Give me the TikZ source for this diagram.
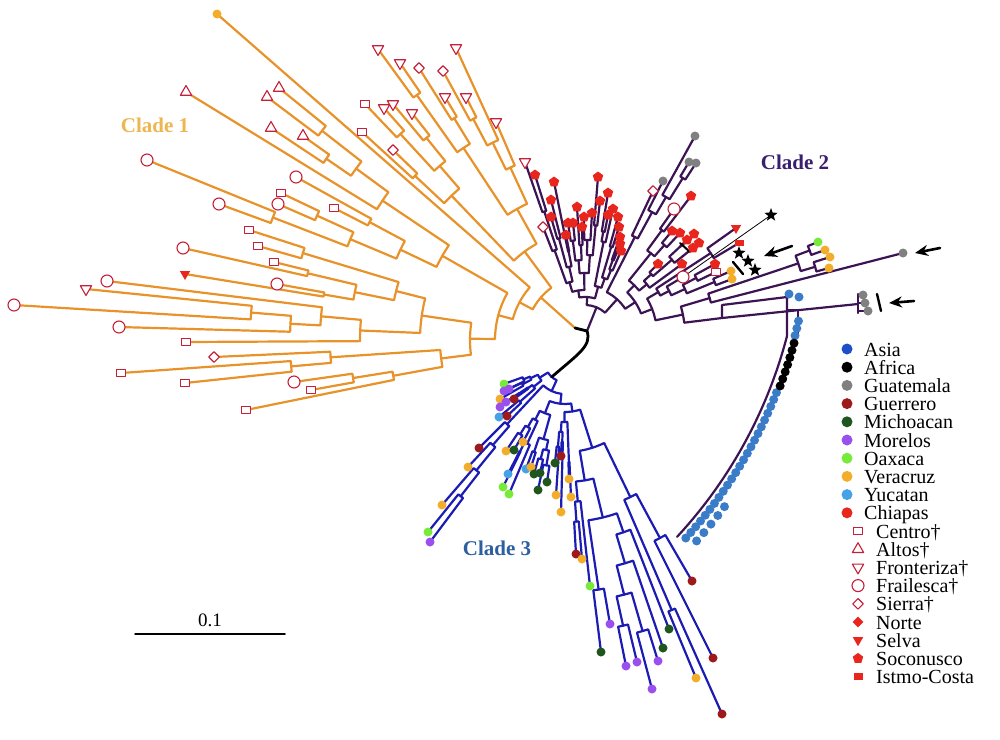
\documentclass[tikz,border=0pt]{standalone}
\usepackage{fontspec}
\setmainfont{Liberation Serif}
\usetikzlibrary{calc,shapes.geometric,arrows.meta}
\definecolor{clOne}{HTML}{E8922A}
\definecolor{clTwo}{HTML}{3C1454}
\definecolor{clThree}{HTML}{1C1CB4}
\definecolor{txtOne}{HTML}{EDB650}
\definecolor{txtTwo}{HTML}{3A1E70}
\definecolor{txtThree}{HTML}{2D5E9E}
\definecolor{cAsia}{HTML}{1F4FC8}
\definecolor{cAsiT}{HTML}{3A7CC8}
\definecolor{cGua}{HTML}{808080}
\definecolor{cGue}{HTML}{9E1A1A}
\definecolor{cMic}{HTML}{1E561E}
\definecolor{cMor}{HTML}{9A50EC}
\definecolor{cOax}{HTML}{78EA3A}
\definecolor{cVer}{HTML}{F2AE2A}
\definecolor{cYuc}{HTML}{45A2E6}
\definecolor{cChi}{HTML}{E8261E}
\definecolor{cOpen}{HTML}{C4203A}
% join two children (tips or inner nodes) by an arc round (F)
\newcommand\jn[4]{%
  \draw let \p1=($(#2)-(F)$), \p2=($(#3)-(F)$),
    \n1={mod(atan2(\y1,\x1)+360-(\cut),360)+(\cut)},
    \n2={mod(atan2(\y2,\x2)+360-(\cut),360)+(\cut)} in
    (#2) -- ($(F)+(\n1:#4pt)$) arc[start angle=\n1, end angle=\n2, radius=#4pt] -- (#3)
    ($(F)+({(\n1+\n2)/2}:#4pt)$) coordinate (#1);}
\def\tipsA{a1/246/410/mCen, a2/311/390/mCen, a3/294/382/mFra, a4/185/383/mCen,
  a5/121/373/mCen, a6/214/357/mSie, a7/186/342/mCen, a8/119/327/mFra, a9/14/305/mFra,
  a10/86/289/mFro, a11/107/281/mFra, a12/277/284/mFra, a13/185/274/mSel, a14/274/262/mCen,
  a15/183/248/mFra, a16/258/246/mCen, a17/249/230/mCen, a18/334/208/mCen, a19/278/204/mFra,
  a20/219/204/mFra, a21/281/193/mCen, a22/296/177/mFra, a23/147/160/mFra, a24/393/150/mSie,
  a25/362/132/mCen, a26/303/136/mAlt, a27/271/128/mAlt, a28/267/97/mAlt, a29/279/88/mAlt,
  a30/186/92/mAlt, a31/217/14/tVer, a32/365/104/mCen, a33/384/108/mFro, a34/393/104/mFro,
  a35/412/113/mFro, a36/378/49/mFro, a37/400/63/mFro, a38/419/68/mSie, a39/443/71/mSie,
  a40/445/97/mFro, a41/466/97/mFro, a42/456/48/mFro, a43/496/122/mFro}
\def\tipsB{b1/543/227/mSie, b2/525/162/mFro, b3/535/175/mSoc, b4/551/217/mSoc,
  b5/551/200/mSoc, b6/554/182/mSoc, b7/566/235/mSoc, b8/568/223/mSoc, b9/573/223/mSoc,
  b10/577/207/mSoc, b11/582/227/mSoc, b12/584/217/mSoc, b13/592/213/mSoc, b14/598/177/mSoc,
  b15/600/201/mSoc, b16/608/193/mSoc, b17/608/215/mSoc, b18/613/209/mSoc, b19/618/217/mSoc,
  b20/619/227/mSoc, b21/620/237/mSoc, b22/620/244/mSoc, b23/621/251/mSoc, b24/653/191/mSie,
  b25/663/181/tGua, b26/695/136/tGua, b27/689/162/tGua, b28/696/163/tGua, b29/674/209/mFra,
  b30/691/196/mSoc, b31/672/231/mSoc, b32/680/233/mSoc, b33/658/264/mSoc, b34/687/240/mSoc,
  b35/694/234/mSoc, b36/699/243/mSoc, b37/693/248/mSoc, b38/682/264/mSoc, b39/736/228/mSel,
  b40/739/243/mIst, b41/683/277/mFra, b42/715/264/mSoc, b43/716/272/mCen, b44/731/271/tVer,
  b45/732/279/tVer, b46/818/242/tOax, b47/825/250/tVer, b48/830/257/tVer, b49/829/268/tVer,
  b50/903/253/tGua}
\def\tipsC{c1/504/384/tOax, c2/509/389/tMor, c3/504/391/tMor, c4/514/399/tGue,
  c5/500/399/tVer, c6/506/402/tMor, c7/500/407/tMor, c8/499/417/tYuc, c9/507/416/tGue,
  c10/479/448/tGue, c11/506/451/tVer, c12/514/450/tMic, c13/523/442/tVer, c14/468/467/tVer,
  c15/508/474/tYuc, c16/526/469/tYuc, c17/531/467/tVer, c18/534/474/tMic, c19/540/473/tMic,
  c20/547/482/tMic, c21/538/490/tMic, c22/503/487/tOax, c23/509/494/tOax, c24/561/456/tGue,
  c25/555/463/tMic, c26/569/479/tVer, c27/556/495/tVer, c28/571/497/tVer, c29/561/512/tVer,
  c30/442/505/tVer, c31/428/532/tOax, c32/430/542/tMor, c33/576/554/tGue, c34/582/559/tVer,
  c35/590/586/tOax, c36/610/624/tMor, c37/601/652/tMic, c38/626/666/tMor, c39/637/662/tMor,
  c40/658/661/tMor, c41/652/689/tMor, c42/663/648/tMic, c43/669/629/tMic, c44/692/581/tGue,
  c45/713/658/tGue, c46/696/678/tVer, c47/722/714/tGue}
\begin{document}
\begin{tikzpicture}[x=1pt, y=-1pt, line join=round, line cap=round,
  tipdot/.style={circle, inner sep=0pt, minimum size=9pt, draw=none},
  tAsi/.style={tipdot, fill=cAsiT}, tAsL/.style={tipdot, fill=cAsia},
  tAfr/.style={tipdot, fill=black}, tGua/.style={tipdot, fill=cGua},
  tGue/.style={tipdot, fill=cGue}, tMic/.style={tipdot, fill=cMic},
  tMor/.style={tipdot, fill=cMor}, tOax/.style={tipdot, fill=cOax},
  tVer/.style={tipdot, fill=cVer}, tYuc/.style={tipdot, fill=cYuc},
  tChi/.style={tipdot, fill=cChi},
  opn/.style={draw=cOpen, fill=white, line width=1.1pt, inner sep=0pt},
  mCen/.style={opn, rectangle, minimum width=8.5pt, minimum height=7pt},
  mAlt/.style={opn, regular polygon, regular polygon sides=3, minimum size=13pt},
  mFro/.style={mAlt, shape border rotate=180},
  mFra/.style={opn, circle, minimum size=12pt},
  mSie/.style={opn, diamond, minimum size=11pt},
  fld/.style={fill=cChi, draw=none, inner sep=0pt},
  mNor/.style={fld, diamond, minimum size=11pt},
  mSel/.style={fld, regular polygon, regular polygon sides=3, shape border rotate=180, minimum size=12pt},
  mSoc/.style={fld, regular polygon, regular polygon sides=5, minimum size=11pt},
  mIst/.style={fld, rectangle, minimum width=9pt, minimum height=6.5pt},
  mStar/.style={star, star points=5, star point ratio=2.4, fill=black, inner sep=0pt, minimum size=14pt},
  rootln/.style={black, line width=2.8pt},
  bigarr/.style={-{Stealth[length=13pt, width=11pt]}, line width=2.6pt},
  cltxt/.style={font=\fontsize{21}{21}\selectfont\bfseries},
  lgtxt/.style={font=\fontsize{20}{20}\selectfont, anchor=base west, inner sep=0pt}]
\useasboundingbox (0,0) rectangle (1000,739);
\coordinate (rtA) at (575,328);
\coordinate (rt) at (587,331);
% clade 1
\begin{scope}[color=clOne, line width=2.2pt]
  \coordinate (F) at (590,340); \def\cut{0}
  \foreach \n/\x/\y/\m in \tipsA {\coordinate (\n) at (\x,\y);}
  \jn{A1}{a2}{a3}{240} \jn{A2}{a1}{A1}{200} \jn{A3}{a4}{a5}{300}
  \jn{A4}{A3}{a6}{260} \jn{A5}{A2}{A4}{150}
  \jn{B1}{a9}{a10}{340} \jn{B2}{a8}{B1}{300} \jn{B3}{B2}{a11}{270} \jn{B4}{a7}{B3}{230}
  \jn{C1}{a13}{a12}{270} \jn{C2}{a15}{a14}{290} \jn{C3}{C1}{C2}{240}
  \jn{C4}{a16}{a17}{300} \jn{C5}{C3}{C4}{200}
  \jn{BC}{B4}{C5}{170} \jn{ABC}{A5}{BC}{120}
  \jn{D1}{a20}{a23}{340} \jn{D2}{a19}{a21}{300} \jn{D3}{D1}{D2}{260}
  \jn{D4}{a18}{a22}{250} \jn{D5}{D3}{D4}{210}
  \jn{E1}{a27}{a26}{320} \jn{E2}{a28}{a29}{340} \jn{E3}{E1}{E2}{290} \jn{E4}{a30}{E3}{250}
  \jn{DE}{D5}{E4}{170} \jn{AE}{ABC}{DE}{95} \jn{AY}{AE}{a31}{80}
  \jn{H1}{a25}{a24}{240} \jn{H2}{a32}{a33}{280} \jn{H3}{a34}{a35}{260}
  \jn{H4}{H2}{H3}{230} \jn{H5}{H1}{H4}{200}
  \jn{H6}{a36}{a37}{300} \jn{H7}{a38}{a40}{260} \jn{H8}{H6}{H7}{230}
  \jn{H9}{a39}{a41}{250} \jn{H10}{H9}{a42}{220} \jn{H11}{H10}{a43}{190}
  \jn{H12}{H8}{H11}{150} \jn{H13}{H5}{H12}{110}
  \jn{R1}{AY}{H13}{65}
  \draw (R1) -- (rtA);
\end{scope}
% clade 2
\begin{scope}[color=clTwo, line width=2.2pt]
  \coordinate (F) at (585,335); \def\cut{-180}
  \foreach \n/\x/\y/\m in \tipsB {\coordinate (\n) at (\x,\y);}
  \coordinate (asN) at (722,318);
  \jn{P1}{b2}{b3}{130} \jn{P2}{b1}{P1}{90} \jn{P3}{b4}{b5}{100}
  \jn{P4}{b6}{b7}{85} \jn{P5}{P3}{P4}{70} \jn{P6}{P2}{P5}{55}
  \jn{Q1}{b8}{b9}{95} \jn{Q2}{b10}{b11}{90} \jn{Q3}{Q1}{Q2}{75}
  \jn{Q4}{b12}{b13}{95} \jn{Q5}{b14}{b15}{110} \jn{Q6}{Q4}{Q5}{80} \jn{Q7}{Q3}{Q6}{62}
  \jn{S1}{b16}{b17}{105} \jn{S2}{S1}{b18}{95} \jn{S3}{b19}{b20}{92}
  \jn{S4}{b21}{b22}{80} \jn{S5}{S4}{b23}{70} \jn{S6}{S3}{S5}{60} \jn{S7}{S2}{S6}{50}
  \jn{T1}{P6}{Q7}{45} \jn{T2}{T1}{S7}{38}
  \jn{U1}{b27}{b28}{185} \jn{U2}{b26}{U1}{160} \jn{U3}{b25}{U2}{140} \jn{U4}{b24}{U3}{110}
  \jn{V1}{b29}{b30}{130} \jn{V2}{b31}{b32}{120} \jn{V3}{V1}{V2}{105}
  \jn{V4}{b34}{b35}{130} \jn{V5}{b36}{b37}{125} \jn{V6}{V4}{V5}{115}
  \jn{V7}{b33}{V6}{90} \jn{V8}{V7}{b38}{80} \jn{V9}{V3}{V8}{70}
  \jn{W1}{b39}{b40}{150} \jn{W2}{b42}{b43}{125} \jn{W3}{b44}{b45}{140}
  \jn{W4}{W2}{W3}{110} \jn{W5}{b41}{W4}{95} \jn{W6}{W1}{W5}{85}
  \jn{X1}{b46}{b47}{240} \jn{X2}{b48}{b49}{240} \jn{X3}{X1}{X2}{225}
  \jn{Y1}{X3}{b50}{130} \jn{Y2}{Y1}{asN}{100} \jn{Y3}{W6}{Y2}{72}
  \jn{Y4}{V9}{Y3}{60} \jn{Y5}{U4}{Y4}{48} \jn{Y6}{T2}{Y5}{30}
  \draw (Y6) -- (rt);
  % Asia / Africa group and Guatemala trio
  \coordinate (asC) at (333,217);
  \draw (asN) -- (722,305) -- (787,297) -- (787,336)
    arc[start angle=-14.6, end angle=-42.8, radius=470pt];
  \draw (787,310) -- (798,310) -- (798,336);
  \draw (asN) -- (858,304);
  \draw (858,294) -- (858,313);
  \draw (858,295) -- (863,295) (858,303) -- (865,303) (858,311) -- (868,311);
\end{scope}
% clade 3
\begin{scope}[color=clThree, line width=2.2pt]
  \coordinate (F) at (565,362); \def\cut{0}
  \foreach \n/\x/\y/\m in \tipsC {\coordinate (\n) at (\x,\y);}
  \jn{K1}{c1}{c3}{45} \jn{K2}{c2}{c5}{48} \jn{K3}{K1}{K2}{38}
  \jn{K4}{c6}{c7}{55} \jn{K5}{K4}{c4}{45} \jn{K6}{c8}{c9}{60}
  \jn{K7}{K5}{K6}{40} \jn{K8}{K3}{K7}{30}
  \jn{M1}{c31}{c32}{170} \jn{M2}{c30}{M1}{140} \jn{M3}{c14}{M2}{110} \jn{M4}{c10}{M3}{85}
  \jn{N1}{c11}{c12}{85} \jn{N2}{N1}{c13}{75} \jn{N3}{c15}{c22}{100}
  \jn{N4}{N3}{c23}{90} \jn{N5}{N2}{N4}{65}
  \jn{N6}{c16}{c17}{95} \jn{N7}{c18}{c19}{100} \jn{N8}{c21}{c20}{105}
  \jn{N9}{N7}{N8}{90} \jn{N10}{N6}{N9}{80} \jn{N11}{N5}{N10}{55}
  \jn{O1}{c25}{c27}{85} \jn{O2}{c24}{c29}{80} \jn{O3}{O1}{O2}{70}
  \jn{O4}{c26}{c28}{100} \jn{O5}{O3}{O4}{60}
  \jn{Z1}{c33}{c34}{160} \jn{Z2}{Z1}{c35}{140} \jn{Z3}{c37}{c36}{230}
  \jn{Z4}{c38}{c39}{270} \jn{Z5}{c41}{c40}{280} \jn{Z6}{Z4}{Z5}{240}
  \jn{Z7}{Z6}{c42}{210} \jn{Z8}{Z7}{c43}{180} \jn{Z9}{Z3}{Z8}{160} \jn{Z10}{Z2}{Z9}{120}
  \jn{Z11}{c46}{c47}{270} \jn{Z12}{c45}{c44}{200} \jn{Z13}{Z11}{Z12}{150}
  \jn{Z14}{Z10}{Z13}{90}
  \jn{L1}{O5}{Z14}{50} \jn{L2}{N11}{L1}{42} \jn{L3}{M4}{L2}{32} \jn{L4}{K8}{L3}{20}
\end{scope}
% root
\draw[rootln] (rtA) -- (rt);
\draw[rootln] (rt) .. controls (592,346) and (578,354) .. (L4);
% marks and stars
\coordinate (st1) at (771,215);
\draw[line width=0.8pt] (b41) -- (st1);
\node[mStar] (s1) at (st1) {};
\node[mStar] (s2) at (739,253) {};
\node[mStar] (s3) at (748,261) {};
\node[mStar] (s4) at (755,270) {};
\coordinate (bar1a) at (733,262); \coordinate (bar1b) at (743,274);
\draw[line width=2.4pt] (bar1a) -- (bar1b);
\coordinate (bar2a) at (877,294); \coordinate (bar2b) at (881,311);
\draw[line width=2.4pt] (bar2a) -- (bar2b);
\coordinate (bar3a) at (680,243); \coordinate (bar3b) at (690,252);
\draw[line width=2pt] (bar3a) -- (bar3b);
\coordinate (ar1s) at (792,246); \coordinate (ar1e) at (764,256);
\coordinate (ar2s) at (940,248); \coordinate (ar2e) at (915,253);
\coordinate (ar3s) at (914,301); \coordinate (ar3e) at (889,303);
\draw[bigarr] (ar1s) -- (ar1e);
\draw[bigarr] (ar2s) -- (ar2e);
\draw[bigarr] (ar3s) -- (ar3e);
% tip markers
\foreach \n/\x/\y/\m in \tipsA {\node[\m] (m\n) at (\n) {};}
\foreach \n/\x/\y/\m in \tipsB {\node[\m] (m\n) at (\n) {};}
\foreach \n/\x/\y/\m in \tipsC {\node[\m] (m\n) at (\n) {};}
\node[tGua] (g1) at (863,295) {};
\node[tGua] (g2) at (865,303) {};
\node[tGua] (g3) at (868,311) {};
\node[tAsi] (as0a) at (789,294) {};
\node[tAsi] (as0b) at (799,297) {};
\foreach \a [count=\i] in {-12.6,-13.5,-14.4,-21.6,-22.5,...,-42.3}
  \node[tAsi] (as\i) at ($(asC)+(\a:477pt)$) {};
\foreach \a [count=\i] in {-15.3,-16.2,...,-20.7}
  \node[tAfr] (af\i) at ($(asC)+(\a:478pt)$) {};
\foreach \a [count=\i] in {-36.5,-37.8,...,-42.5}
  \node[tAsi] (ab\i) at ($(asC)+(\a:487pt)$) {};
% labels
\node[cltxt, text=txtOne] (lb1) at (155,125) {Clade 1};
\node[cltxt, text=txtTwo] (lb2) at (795,162) {Clade 2};
\node[cltxt, text=txtThree] (lb3) at (497,548) {Clade 3};
% scale bar
\coordinate (sb1) at (135,634); \coordinate (sb2) at (285,634);
\draw[line width=1.5pt] (sb1) -- (sb2);
\node[font=\fontsize{19}{19}\selectfont] (sbt) at (210,620) {0.1};
% legend
\foreach \m/\t [count=\i] in {tAsL/Asia, tAfr/Africa, tGua/Guatemala, tGue/Guerrero,
  tMic/Michoacan, tMor/Morelos, tOax/Oaxaca, tVer/Veracruz, tYuc/Yucatan, tChi/Chiapas} {
  \node[\m, minimum size=11pt] (ld\i) at (847,{349+18.2*(\i-1)}) {};
  \node[lgtxt] (lt\i) at (864,{356+18.2*(\i-1)}) {\t};
}
\foreach \m/\t [count=\i] in {mCen/Centro†, mAlt/Altos†, mFro/Fronteriza†, mFra/Frailesca†,
  mSie/Sierra†, mNor/Norte, mSel/Selva, mSoc/Soconusco, mIst/Istmo-Costa} {
  \node[\m] (ls\i) at (858,{349+18.2*(9+\i)}) {};
  \node[lgtxt] (lu\i) at (876,{356+18.2*(9+\i)}) {\t};
}
\end{tikzpicture}
\end{document}
